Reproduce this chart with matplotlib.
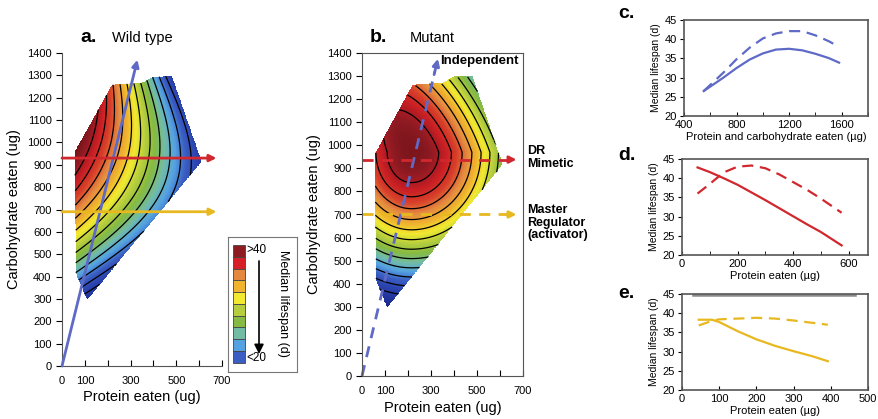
import numpy as np
import matplotlib
matplotlib.use('Agg')
import matplotlib.pyplot as plt
from matplotlib.colors import LinearSegmentedColormap
from matplotlib.path import Path
from matplotlib.patches import Rectangle

plt.rcParams['font.family'] = ['Liberation Sans', 'DejaVu Sans']

# diet space covered by the feeding trials (protein, carbohydrate in ug)
diet_protein = [55, 219, 350, 400, 481, 612, 109, 60]
diet_carb = [960, 1259, 1268, 1295, 1297, 915, 295, 414]

# fitted lifespan surfaces (parameters read off panels a and b)
# wild type: lifespan = base(C) - slope(C) * protein, with t = (C - 930) / 330
wt_base = [46.3, 8.4, -2.2]        # constant, t, t^2
wt_slope = [0.043, 0.016, 0.006]   # constant, t, t^2
# mutant: peaked surface around an optimum diet
mut_peak, mut_fall, mut_core = 44, 0.055, 220
mut_centre = (215, 970)
mut_left, mut_right, mut_up, mut_down, mut_lean = 0.8, 0.9, 1.4, 1.0, 0.35
contour_levels = [20, 22, 24, 26, 28, 30, 32, 34, 36, 38, 40, 42]

# colour key, top (>40) to bottom (<20)
key_colors = ['#8E1A22', '#D42026', '#E48A40', '#F0B42E', '#F2EA30',
              '#B6CE3E', '#86BA42', '#72BCA6', '#54A2E2', '#3A5EC2']
surface_values = [17, 21, 23, 25, 27, 29, 31, 33, 35, 37, 39, 41, 43, 46]
surface_colors = ['#1B2A8F', '#2C44B0', '#3A5EC2', '#54A2E2', '#72BCA6', '#86BA42',
                  '#B6CE3E', '#F2EA30', '#F0B42E', '#E48A40', '#D8402A', '#C81E24',
                  '#8E1A22', '#5E0E12']

# panel c: protein + carbohydrate eaten vs median lifespan
c_x = [550, 700, 800, 900, 1000, 1100, 1200, 1300, 1400, 1500, 1580]
c_wild = [26.5, 30.0, 32.5, 34.7, 36.3, 37.3, 37.5, 37.1, 36.2, 35.1, 33.9]
c_mut = [26.5, 31.3, 34.8, 37.8, 40.2, 41.5, 42.1, 42.1, 41.0, 39.5, 38.0]

# panel d: protein eaten at high carbohydrate
d_x = [56, 100, 150, 200, 250, 300, 350, 400, 450, 500, 575]
d_wild = [42.8, 41.6, 40.0, 38.3, 36.3, 34.3, 32.2, 30.1, 28.0, 26.0, 22.5]
d_mut = [36.0, 38.5, 41.5, 43.0, 43.3, 42.6, 41.0, 39.0, 37.0, 34.7, 31.0]

# panel e: protein eaten at low carbohydrate
e_x = [45, 80, 100, 150, 200, 250, 300, 350, 392]
e_wild = [38.3, 38.3, 37.7, 35.3, 33.2, 31.5, 30.1, 28.8, 27.5]
e_mut = [36.8, 38.0, 38.4, 38.6, 38.8, 38.6, 38.1, 37.5, 37.0]
e_rule_x = [30, 465]
e_rule_y = [44.7, 44.7]

blue = '#5F6AC6'
red = '#D0282E'
gold = '#E8B820'

fig = plt.figure(figsize=(8.79, 4.19), dpi=100)

# response surfaces
P, C = np.meshgrid(np.linspace(0, 700, 351), np.linspace(0, 1400, 701))
inside = Path(np.column_stack([diet_protein, diet_carb])).contains_points(
    np.column_stack([P.ravel(), C.ravel()])).reshape(P.shape)

t = (C - 930) / 330
wild = (wt_base[0] + wt_base[1] * t + wt_base[2] * t ** 2) \
    - (wt_slope[0] + wt_slope[1] * t + wt_slope[2] * t ** 2) * P

dx = P - mut_centre[0]
dy = C - mut_centre[1]
u = dx + mut_lean * np.maximum(dy, 0)
u = u / np.where(u < 0, mut_left, mut_right)
v = dy / np.where(dy > 0, mut_up, mut_down)
r = np.hypot(u, v)
mutant = mut_peak - mut_fall * (np.hypot(r, mut_core) - mut_core)

lo, hi = surface_values[0], surface_values[-1]
cmap = LinearSegmentedColormap.from_list(
    'life', [((val - lo) / (hi - lo), col) for val, col in zip(surface_values, surface_colors)])


def surface_panel(rect, Z, boxed):
    ax = fig.add_axes(rect)
    Zm = np.ma.masked_where(~inside, Z)
    ax.imshow(Zm, extent=(0, 700, 0, 1400), origin='lower', cmap=cmap,
              vmin=lo, vmax=hi, aspect='auto', interpolation='nearest')
    ax.contour(P, C, Zm, levels=contour_levels, colors='k', linewidths=0.9)
    ax.set_xlim(0, 700)
    ax.set_ylim(0, 1400)
    ax.set_xticks(range(0, 701, 100))
    ax.set_xticklabels(['0', '100', '', '300', '', '500', '', '700'])
    ax.set_yticks(range(0, 1401, 100))
    ax.tick_params(axis='x', direction='in', length=4, labelsize=8, pad=7)
    ax.tick_params(axis='y', direction='out', length=4, labelsize=8)
    for s in ax.spines.values():
        s.set_color('#555555')
    if not boxed:
        ax.spines['top'].set_visible(False)
        ax.spines['right'].set_visible(False)
    ax.set_ylabel('Carbohydrate eaten (ug)', fontsize=10.5, labelpad=4)
    return ax


def arrow(ax, x0, y0, x1, y1, color, dashed):
    if dashed:
        f = 0.96
        ax.plot([x0, x0 + f * (x1 - x0)], [y0, y0 + f * (y1 - y0)], color=color,
                lw=2, dashes=(4, 3), clip_on=False)
        ax.annotate('', xy=(x1, y1), xytext=(x0 + 0.95 * (x1 - x0), y0 + 0.95 * (y1 - y0)),
                    arrowprops=dict(arrowstyle='-|>', color=color, lw=2,
                                    mutation_scale=10, shrinkA=0, shrinkB=0),
                    annotation_clip=False)
    else:
        ax.annotate('', xy=(x1, y1), xytext=(x0, y0),
                    arrowprops=dict(arrowstyle='-|>', color=color, lw=2,
                                    mutation_scale=10, shrinkA=0, shrinkB=0),
                    annotation_clip=False)


axa = surface_panel([62 / 879, 53 / 419, 160 / 879, 313 / 419], wild, False)
axa.set_xlabel('Protein eaten (ug)', fontsize=10.5, labelpad=3)
arrow(axa, 0, 0, 330, 1370, blue, False)
arrow(axa, 0, 930, 676, 930, red, False)
arrow(axa, 0, 690, 676, 690, gold, False)
fig.text(80 / 879, 1 - 38 / 419, 'a.', fontsize=14, fontweight='bold', va='center')
fig.text(112 / 879, 1 - 38 / 419, 'Wild type', fontsize=10.5, va='center')

axb = surface_panel([362 / 879, 43 / 419, 161 / 879, 323 / 419], mutant, True)
axb.set_xlabel('Protein eaten (ug)', fontsize=10.5, labelpad=4)
arrow(axb, 0, 0, 330, 1375, blue, True)
arrow(axb, 0, 938, 672, 938, red, True)
arrow(axb, 0, 700, 672, 700, gold, True)
axb.text(340, 1365, 'Independent', fontsize=9.5, fontweight='bold', va='center')
axb.text(718, 948, 'DR\nMimetic', fontsize=9, fontweight='bold', va='center',
         linespacing=1.1)
axb.text(718, 665, 'Master\nRegulator\n(activator)', fontsize=9, fontweight='bold',
         va='center', linespacing=1.1)
fig.text(370 / 879, 1 - 38 / 419, 'b.', fontsize=14, fontweight='bold', va='center')
fig.text(410 / 879, 1 - 38 / 419, 'Mutant', fontsize=10.5, va='center')

# colour key
axk = fig.add_axes([228 / 879, 47 / 419, 69 / 879, 135 / 419])
axk.set_xlim(0, 69)
axk.set_ylim(135, 0)
axk.set_xticks([])
axk.set_yticks([])
for s in axk.spines.values():
    s.set_color('#777777')
step = (125.7 - 8) / len(key_colors)
for i, col in enumerate(key_colors):
    axk.add_patch(Rectangle((5, 8 + i * step), 12, step, facecolor=col,
                            edgecolor='#444444', lw=0.6))
axk.text(18, 13, '>40', fontsize=8.5, va='center')
axk.text(18, 121, '<20', fontsize=8.5, va='center')
axk.annotate('', xy=(31, 117), xytext=(31, 24),
             arrowprops=dict(arrowstyle='-|>', color='k', lw=1.2, mutation_scale=14,
                             shrinkA=0, shrinkB=0))
axk.text(55, 66, 'Median lifespan (d)', fontsize=9, rotation=270, ha='center',
         va='center')


def line_panel(rect, x, wild_y, mut_y, color, xlim, major, minor, xlabel, letter, ly):
    ax = fig.add_axes(rect)
    ax.plot(x, wild_y, color=color, lw=1.6)
    ax.plot(x, mut_y, color=color, lw=1.6, dashes=(5, 3))
    ax.set_xlim(*xlim)
    ax.set_ylim(20, 45)
    ax.set_xticks(major)
    ax.set_xticks(minor, minor=True)
    ax.set_yticks(range(20, 46, 5))
    ax.tick_params(axis='x', which='both', direction='in', length=3, labelsize=8, pad=3)
    ax.tick_params(axis='y', direction='out', length=3, labelsize=8, pad=2)
    for s in ax.spines.values():
        s.set_color('#555555')
        s.set_linewidth(1.2)
    ax.set_ylabel('Median lifespan (d)', fontsize=7.5, labelpad=3)
    ax.set_xlabel(xlabel, fontsize=8, labelpad=1)
    fig.text(618 / 879, 1 - ly / 419, letter, fontsize=14, fontweight='bold', va='center')
    return ax


line_panel([684 / 879, 303 / 419, 184 / 879, 96 / 419], c_x, c_wild, c_mut, blue,
           (400, 1800), [400, 800, 1200, 1600], [600, 1000, 1400, 1800],
           'Protein and carbohydrate eaten (µg)', 'c.', 14)
line_panel([682 / 879, 164 / 419, 186 / 879, 96 / 419], d_x, d_wild, d_mut, red,
           (0, 670), [0, 200, 400, 600], [100, 300, 500],
           'Protein eaten (µg)', 'd.', 156)
axe = line_panel([682 / 879, 29 / 419, 186 / 879, 96 / 419], e_x, e_wild, e_mut, gold,
                 (0, 500), [0, 100, 200, 300, 400, 500], [],
                 'Protein eaten (µg)', 'e.', 293)
axe.plot(e_rule_x, e_rule_y, color='#8A8A8A', lw=1.8)

fig.savefig('out.png', dpi=100)
